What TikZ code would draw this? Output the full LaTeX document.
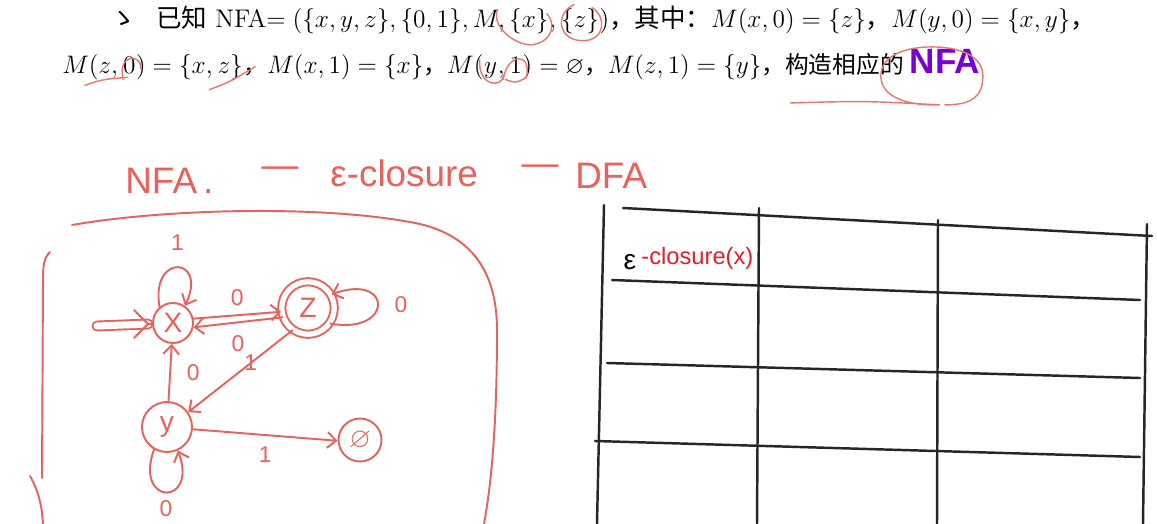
\documentclass[tikz,border=0pt]{standalone}
\usepackage{amssymb}
\usepackage{fontspec}
\newfontfamily\cjk{Noto Sans CJK SC}
\newfontfamily\hand{Liberation Sans}
\usetikzlibrary{arrows.meta, positioning, calc}
\definecolor{penred}{RGB}{230,98,92}
\definecolor{markred}{RGB}{232,118,112}
\definecolor{inkred}{RGB}{222,32,44}
\definecolor{hlpurple}{RGB}{118,0,214}

\begin{document}
\begin{tikzpicture}[x=0.02cm, y=-0.02cm,
  txt/.style={inner sep=0pt, font=\fontsize{13.5}{16}\selectfont},
  bigtxt/.style={inner sep=0pt, font=\fontsize{14.5}{16}\selectfont},
  stroke/.style={draw=penred, line width=1.1pt, line cap=round, line join=round},
  state/.style={circle, stroke, text=penred, inner sep=0pt, font=\hand\fontsize{16}{16}\selectfont},
  trans/.style={stroke, -{Straight Barb[length=5pt, width=9pt]}},
  lbl/.style={text=penred, inner sep=1pt, font=\hand\fontsize{13}{13}\selectfont},
  penmark/.style={draw=markred, line width=0.8pt, line cap=round},
  title/.style={text=penred, inner sep=0pt, font=\hand\fontsize{21}{21}\selectfont},
  gridline/.style={draw=black!85, line width=1.4pt, line cap=round}]
\fill[white] (0,0) rectangle (1157,524);
\useasboundingbox (0,0) rectangle (1157,524);

% Problem text
\node[bigtxt, anchor=base west] (l1a) at (110,28) {{\cjk ゝ\hspace{0.8em}已知} NFA$=(\{x,y,z\},\{0,1\},M,$};
\node[bigtxt, base right=2pt of l1a] (setx) {$\{x\}$};
\node[bigtxt, base right=0pt of setx] (l1b) {$,\,$};
\node[bigtxt, base right=0pt of l1b] (setz) {$\{z\}$};
\node[bigtxt, base right=0pt of setz] (l1c) {$)${\cjk ，其中：}$M(x,0)=\{z\}${\cjk ，}$M(y,0)=\{x,y\}${\cjk ，}};

\node[txt, anchor=base west] (l2a) at (62,73) {$M(z,\,$};
\node[txt, base right=0pt of l2a] (zero) {$0$};
\node[txt, base right=0pt of zero] (l2b) {$)=\{x,\,$};
\node[txt, base right=0pt of l2b] (zbr) {$z\}$};
\node[txt, base right=0pt of zbr] (l2c) {{\cjk ，}$M(x,1)=\{x\}${\cjk ，}$M($};
\node[txt, base right=0pt of l2c] (ylet) {$y$};
\node[txt, base right=0pt of ylet] (l2d) {$,\,$};
\node[txt, base right=0pt of l2d] (one) {$1$};
\node[txt, base right=0pt of one] (l2e) {$)=\varnothing${\cjk ，}$M(z,1)=\{y\}${\cjk ，构造相应的}};
\node[txt, base right=3pt of l2e, text=hlpurple, font=\hand\bfseries\fontsize{20}{20}\selectfont] (nfa) {NFA};

% Marks on the text
\draw[penmark] ($(setx.west)+(-12,-10)$) .. controls ($(setx.west)+(-16,8)$) and ($(setx.south)+(-10,12)$) .. ($(setx.south)+(4,10)$) .. controls ($(setx.south east)+(6,6)$) and ($(setx.east)+(6,0)$) .. ($(setx.east)+(-2,-8)$);
\draw[penmark] ($(setz.center)+(-6,-17)$) .. controls ($(setz.center)+(-26,-8)$) and ($(setz.center)+(-22,20)$) .. ($(setz.center)+(4,19)$) .. controls ($(setz.center)+(26,18)$) and ($(setz.center)+(26,-6)$) .. ($(setz.center)+(12,-14)$);
\draw[penmark] ($(zero.south west)+(-38,12)$) .. controls ($(zero.south west)+(-20,6)$) .. ($(zero.south)+(-2,4)$);
\draw[penmark] ($(zero.south)+(-6,6)$) .. controls ($(zero.north west)+(-6,-2)$) and ($(zero.north east)+(6,-4)$) .. ($(zero.east)+(5,4)$);
\draw[penmark] ($(zbr.south west)+(-8,10)$) .. controls ($(zbr.south)+(0,2)$) .. ($(zbr.east)+(12,0)$);
\draw[penmark] ($(ylet.north west)+(-4,-2)$) .. controls ($(ylet.south west)+(-6,8)$) and ($(ylet.south east)+(4,10)$) .. ($(ylet.east)+(6,6)$);
\draw[penmark] ($(one.south west)+(-6,6)$) .. controls ($(one.north west)+(-2,-4)$) and ($(one.north east)+(10,-4)$) .. ($(one.south east)+(4,4)$) .. controls ($(one.south)+(0,10)$) .. ($(one.south west)+(-4,6)$);
\draw[penmark] ($(nfa.center)+(-154,42)$) .. controls ($(nfa.center)+(-80,40)$) .. ($(nfa.center)+(-5,44)$) .. controls ($(nfa.center)+(-40,45)$) and ($(nfa.center)+(-64,35)$) .. ($(nfa.center)+(-64,15)$) .. controls ($(nfa.center)+(-64,-5)$) and ($(nfa.center)+(-40,-14)$) .. ($(nfa.center)+(-13,-14)$) .. controls ($(nfa.center)+(15,-14)$) and ($(nfa.center)+(38,-5)$) .. ($(nfa.center)+(38,15)$) .. controls ($(nfa.center)+(38,35)$) and ($(nfa.center)+(28,44)$) .. ($(nfa.center)+(0,44)$);

% Title
\node[title, anchor=base west] (tnfa) at (125,193) {NFA\,.};
\node[title] (dash1) at (280,172) {—};
\node[title, anchor=base west] (eclos) at (330,186) {ε-closure};
\node[title] (dash2) at (540,170) {—};
\node[title, anchor=base west] (tdfa) at (575,188) {DFA};

% Frame
\draw[stroke] (72,225) .. controls (170,208) and (330,205) .. (420,224) .. controls (470,236) and (497,270) .. (497,330) .. controls (497,420) and (492,480) .. (484,524);
\draw[stroke] (50,252) .. controls (44,258) and (43,265) .. (43,280) -- (42,478);
\draw[stroke] (30,476) .. controls (38,490) and (42,505) .. (43,524);

% States
\node[state, minimum size=0.8cm] (nx) at (173,323) {X};
\node[state, minimum size=1.05cm, double=white, double distance=3pt] (nz) at (308,308) {Z};
\node[state, minimum size=1.0cm] (ny) at (167,427) {y};
\node[state, minimum size=0.86cm] (nempty) at (360,440) {$\varnothing$};
\coordinate (start) at (97,326);
\coordinate (tip) at (148,324);

% Transitions
\draw[stroke, double=white, double distance=4pt] (start) -- (tip);
\draw[stroke] (tip) -- (nx);
\draw[stroke] (134,310) -- (tip) -- (134,338);
\draw[trans] (nx.130) .. controls +(100:1.1cm) and +(65:1.1cm) .. (nx.55) node[lbl, pos=0.5, above=8pt] {1};
\draw[trans] (nx.12) -- (nz.188) node[lbl, midway, above=4pt] {0};
\draw[trans] (nz.200) -- (nx.-12) node[lbl, midway, below=6pt] {0};
\draw[trans] (nz.-35) .. controls +(-10:1.3cm) and +(20:1.3cm) .. (nz.30) node[lbl, pos=0.5, right=8pt] {0};
\draw[trans] (ny) -- (nx) node[lbl, midway, right=8pt] {0};
\draw[trans] (nz.235) -- (ny.35) node[lbl, pos=0.4] {1};
\draw[trans] (ny.-5) -- (nempty.182) node[lbl, midway, below=5pt] {1};
\draw[trans] (ny.240) .. controls +(250:1.2cm) and +(290:1.2cm) .. (ny.-65) node[lbl, pos=0.5, below=3pt] {0};

% Table
\draw[gridline] (623,208) -- (1152,236);
\draw[gridline] (612,280) -- (1140,300);
\draw[gridline] (607,363) -- (1140,378);
\draw[gridline] (595,441) -- (1140,457);
\draw[gridline] (604,205) -- (597,524);
\draw[gridline] (759,208) -- (757,524);
\draw[gridline] (938,220) -- (937,524);
\draw[gridline] (1147,224) -- (1143,524);
\node[inner sep=0pt, font=\hand\fontsize{16}{16}\selectfont] (eps) at (630,262) {ε};
\node[inner sep=0pt, anchor=west, text=inkred, font=\hand\fontsize{13.5}{13.5}\selectfont] (closx) at (641,258) {-closure(x)};
\end{tikzpicture}
\end{document}
